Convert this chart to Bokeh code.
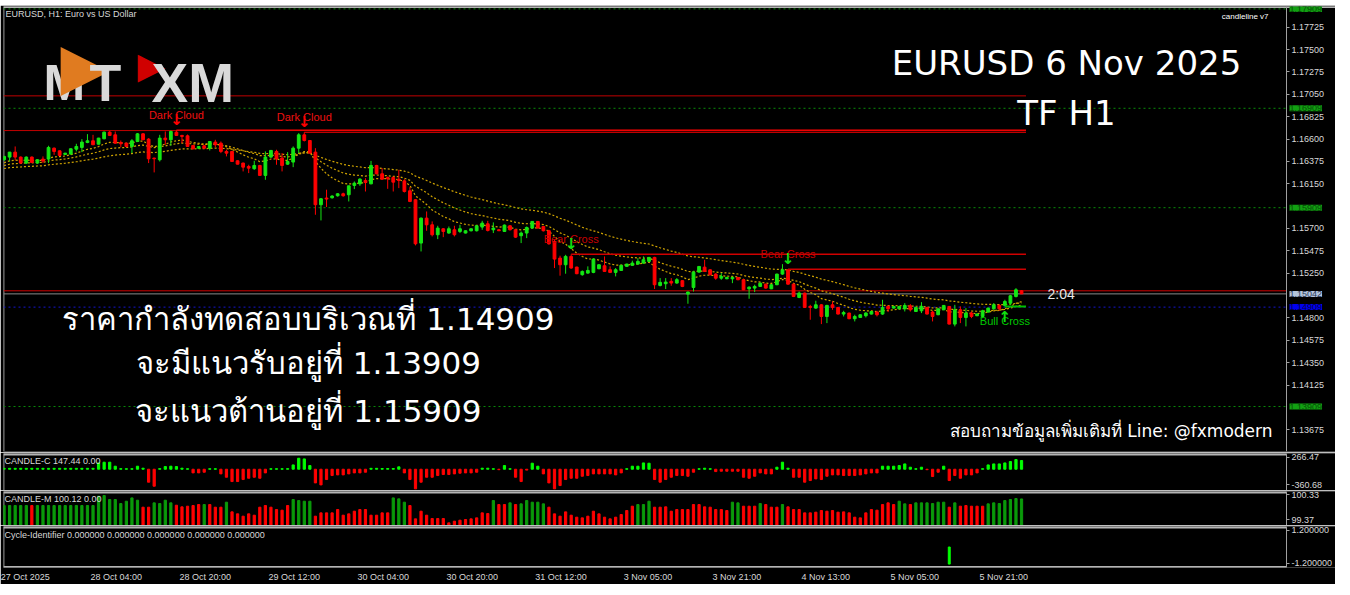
import numpy as np
from bokeh.plotting import figure
from bokeh.layouts import column
from bokeh.models import Range1d, FixedTicker, PrintfTickFormatter, Label, Spacer, ColumnDataSource
from bokeh.embed import file_html
from bokeh.resources import INLINE
from bokeh.core.properties import value

# ---------------- data (EURUSD H1) ----------------
opens = [
    1.16391, 1.16418, 1.16468, 1.16418, 1.16358, 1.16418, 1.16358, 1.16398, 1.16398, 1.16508,
    1.16481, 1.16445, 1.16448, 1.16498, 1.16515, 1.16565, 1.16582, 1.16548, 1.16602, 1.16669,
    1.16642, 1.16565, 1.16558, 1.16525, 1.16575, 1.16652, 1.16599, 1.16408, 1.16391, 1.16609,
    1.16592, 1.16669, 1.16636, 1.16632, 1.16535, 1.16508, 1.16532, 1.16508, 1.16569, 1.16558,
    1.16475, 1.16475, 1.16381, 1.16358, 1.16324, 1.16301, 1.16334, 1.16234, 1.16418, 1.16475,
    1.16408, 1.16347, 1.16368, 1.16508, 1.16642, 1.16585, 1.16468, 1.15939, 1.16006, 1.16009,
    1.16029, 1.16049, 1.16039, 1.16133, 1.16149, 1.16183, 1.16149, 1.16334, 1.16250, 1.16213,
    1.16213, 1.16196, 1.16179, 1.16079, 1.15989, 1.15553, 1.15804, 1.15737, 1.15637, 1.15697,
    1.15654, 1.15687, 1.15670, 1.15654, 1.15677, 1.15677, 1.15714, 1.15747, 1.15687, 1.15687,
    1.15670, 1.15727, 1.15687, 1.15627, 1.15654, 1.15704, 1.15771, 1.15720, 1.15677, 1.15570,
    1.15402, 1.15335, 1.15419, 1.15312, 1.15235, 1.15251, 1.15258, 1.15295, 1.15325, 1.15285,
    1.15258, 1.15278, 1.15319, 1.15329, 1.15342, 1.15352, 1.15369, 1.15409, 1.15127, 1.15144,
    1.15168, 1.15151, 1.15175, 1.15040, 1.15107, 1.15261, 1.15311, 1.15284, 1.15241, 1.15200,
    1.15194, 1.15194, 1.15207, 1.15184, 1.15093, 1.15100, 1.15117, 1.15140, 1.15093, 1.15134,
    1.15241, 1.15284, 1.15140, 1.15006, 1.15050, 1.14916, 1.14899, 1.14932, 1.14815, 1.14932,
    1.14906, 1.14839, 1.14849, 1.14792, 1.14805, 1.14822, 1.14839, 1.14859, 1.14839, 1.14916,
    1.14899, 1.14892, 1.14892, 1.14922, 1.14865, 1.14872, 1.14906, 1.14859, 1.14832, 1.14882,
    1.14916, 1.14738, 1.14882, 1.14805, 1.14849, 1.14822, 1.14815, 1.14859, 1.14892, 1.14926,
    1.14926, 1.14949, 1.15016, 1.15073,
]
highs = [
    1.16430, 1.16470, 1.16525, 1.16425, 1.16425, 1.16425, 1.16395, 1.16425, 1.16532, 1.16515,
    1.16485, 1.16460, 1.16505, 1.16552, 1.16599, 1.16649, 1.16642, 1.16612, 1.16675, 1.16680,
    1.16676, 1.16585, 1.16565, 1.16599, 1.16660, 1.16660, 1.16609, 1.16412, 1.16642, 1.16676,
    1.16685, 1.16690, 1.16642, 1.16645, 1.16540, 1.16530, 1.16540, 1.16580, 1.16592, 1.16575,
    1.16492, 1.16480, 1.16385, 1.16362, 1.16341, 1.16381, 1.16340, 1.16475, 1.16490, 1.16492,
    1.16458, 1.16468, 1.16525, 1.16659, 1.16668, 1.16590, 1.16508, 1.16006, 1.16090, 1.16035,
    1.16055, 1.16060, 1.16129, 1.16173, 1.16206, 1.16206, 1.16380, 1.16340, 1.16307, 1.16223,
    1.16223, 1.16290, 1.16196, 1.16116, 1.15995, 1.15810, 1.15871, 1.15771, 1.15727, 1.15704,
    1.15720, 1.15727, 1.15737, 1.15680, 1.15700, 1.15730, 1.15777, 1.15777, 1.15761, 1.15695,
    1.15740, 1.15735, 1.15690, 1.15670, 1.15720, 1.15775, 1.15775, 1.15725, 1.15687, 1.15587,
    1.15426, 1.15435, 1.15440, 1.15315, 1.15278, 1.15319, 1.15400, 1.15340, 1.15419, 1.15319,
    1.15302, 1.15335, 1.15345, 1.15376, 1.15402, 1.15419, 1.15412, 1.15415, 1.15201, 1.15201,
    1.15201, 1.15201, 1.15180, 1.15066, 1.15274, 1.15320, 1.15385, 1.15290, 1.15251, 1.15251,
    1.15215, 1.15217, 1.15212, 1.15190, 1.15117, 1.15134, 1.15155, 1.15145, 1.15140, 1.15245,
    1.15341, 1.15290, 1.15145, 1.15066, 1.15055, 1.14932, 1.14973, 1.14939, 1.14932, 1.14966,
    1.14910, 1.14872, 1.14853, 1.14832, 1.14836, 1.14859, 1.14868, 1.14872, 1.14983, 1.14926,
    1.14920, 1.14920, 1.14949, 1.14939, 1.14910, 1.14959, 1.14910, 1.14872, 1.14895, 1.14930,
    1.14920, 1.14932, 1.14916, 1.14899, 1.14865, 1.14845, 1.14882, 1.14905, 1.14949, 1.14939,
    1.14983, 1.15033, 1.15100, 1.15080,
]
lows = [
    1.16380, 1.16374, 1.16384, 1.16350, 1.16350, 1.16360, 1.16350, 1.16358, 1.16358, 1.16441,
    1.16430, 1.16440, 1.16445, 1.16475, 1.16468, 1.16558, 1.16540, 1.16545, 1.16598, 1.16630,
    1.16552, 1.16518, 1.16520, 1.16458, 1.16570, 1.16590, 1.16358, 1.16264, 1.16374, 1.16542,
    1.16532, 1.16630, 1.16558, 1.16520, 1.16495, 1.16500, 1.16500, 1.16485, 1.16518, 1.16458,
    1.16425, 1.16370, 1.16345, 1.16274, 1.16257, 1.16290, 1.16230, 1.16190, 1.16410, 1.16341,
    1.16274, 1.16341, 1.16317, 1.16458, 1.16575, 1.16455, 1.15838, 1.15781, 1.15916, 1.16000,
    1.16020, 1.16020, 1.15972, 1.16096, 1.16129, 1.16072, 1.16145, 1.16245, 1.16190, 1.16099,
    1.16072, 1.16106, 1.16062, 1.15965, 1.15530, 1.15469, 1.15677, 1.15620, 1.15593, 1.15613,
    1.15647, 1.15620, 1.15654, 1.15650, 1.15670, 1.15670, 1.15687, 1.15670, 1.15654, 1.15675,
    1.15665, 1.15680, 1.15605, 1.15553, 1.15603, 1.15700, 1.15700, 1.15670, 1.15536, 1.15302,
    1.15225, 1.15245, 1.15295, 1.15240, 1.15225, 1.15245, 1.15250, 1.15290, 1.15265, 1.15251,
    1.15218, 1.15275, 1.15315, 1.15325, 1.15335, 1.15345, 1.15365, 1.15091, 1.15117, 1.15091,
    1.15124, 1.15144, 1.15110, 1.14943, 1.15066, 1.15255, 1.15265, 1.15230, 1.15184, 1.15184,
    1.15190, 1.15150, 1.15180, 1.15080, 1.14993, 1.15060, 1.15112, 1.15095, 1.15090, 1.15130,
    1.15234, 1.15135, 1.15010, 1.14999, 1.14900, 1.14782, 1.14892, 1.14738, 1.14748, 1.14882,
    1.14835, 1.14815, 1.14788, 1.14765, 1.14800, 1.14805, 1.14835, 1.14815, 1.14832, 1.14859,
    1.14895, 1.14888, 1.14865, 1.14865, 1.14860, 1.14849, 1.14835, 1.14765, 1.14828, 1.14878,
    1.14735, 1.14715, 1.14748, 1.14715, 1.14798, 1.14818, 1.14798, 1.14855, 1.14882, 1.14872,
    1.14916, 1.14932, 1.15006, 1.15040,
]
closes = [
    1.16425, 1.16468, 1.16418, 1.16358, 1.16418, 1.16364, 1.16391, 1.16378, 1.16515, 1.16475,
    1.16435, 1.16458, 1.16502, 1.16525, 1.16569, 1.16582, 1.16542, 1.16609, 1.16669, 1.16636,
    1.16558, 1.16552, 1.16525, 1.16582, 1.16652, 1.16592, 1.16401, 1.16401, 1.16609, 1.16592,
    1.16676, 1.16636, 1.16626, 1.16525, 1.16502, 1.16525, 1.16508, 1.16575, 1.16542, 1.16475,
    1.16458, 1.16374, 1.16347, 1.16317, 1.16307, 1.16334, 1.16234, 1.16418, 1.16485, 1.16401,
    1.16334, 1.16374, 1.16508, 1.16642, 1.16585, 1.16458, 1.15939, 1.15999, 1.15996, 1.16026,
    1.16049, 1.16029, 1.16129, 1.16156, 1.16196, 1.16163, 1.16334, 1.16250, 1.16196, 1.16200,
    1.16166, 1.16183, 1.16072, 1.15972, 1.15546, 1.15804, 1.15737, 1.15637, 1.15704, 1.15670,
    1.15697, 1.15637, 1.15697, 1.15677, 1.15697, 1.15727, 1.15754, 1.15680, 1.15704, 1.15677,
    1.15734, 1.15687, 1.15613, 1.15654, 1.15710, 1.15771, 1.15704, 1.15677, 1.15546, 1.15392,
    1.15335, 1.15419, 1.15302, 1.15245, 1.15268, 1.15278, 1.15392, 1.15335, 1.15268, 1.15258,
    1.15285, 1.15329, 1.15342, 1.15352, 1.15369, 1.15386, 1.15409, 1.15134, 1.15158, 1.15161,
    1.15151, 1.15185, 1.15117, 1.15060, 1.15261, 1.15318, 1.15268, 1.15234, 1.15200, 1.15217,
    1.15207, 1.15207, 1.15184, 1.15083, 1.15110, 1.15117, 1.15150, 1.15100, 1.15134, 1.15241,
    1.15284, 1.15140, 1.15016, 1.15050, 1.14906, 1.14906, 1.14932, 1.14815, 1.14926, 1.14906,
    1.14839, 1.14855, 1.14792, 1.14815, 1.14832, 1.14849, 1.14865, 1.14832, 1.14906, 1.14892,
    1.14916, 1.14916, 1.14926, 1.14882, 1.14906, 1.14916, 1.14839, 1.14815, 1.14892, 1.14926,
    1.14738, 1.14882, 1.14805, 1.14849, 1.14815, 1.14839, 1.14872, 1.14899, 1.14932, 1.14892,
    1.14966, 1.15023, 1.15083, 1.15042,
]

price_ticks = [1.17725, 1.17500, 1.17275, 1.17050, 1.16825, 1.16600, 1.16375, 1.16150,
               1.15700, 1.15475, 1.15250, 1.14800, 1.14575, 1.14350, 1.14125, 1.13675]
time_tick_bars = [0, 16, 32, 48, 64, 80, 96, 112, 128, 144, 160, 176]
time_tick_labels = ["27 Oct 2025", "28 Oct 04:00", "28 Oct 20:00", "29 Oct 12:00",
                    "30 Oct 04:00", "30 Oct 20:00", "31 Oct 12:00", "3 Nov 05:00",
                    "3 Nov 21:00", "4 Nov 13:00", "5 Nov 05:00", "5 Nov 21:00"]

ma_periods = [10, 20, 40]
ma_seeds = [1.16347, 1.16324, 1.16297]

green_levels = [1.17909, 1.16909, 1.15909, 1.13909]
test_level = 1.14909
support_level = 1.13909
resist_level = 1.15909
red_levels = [1.17034, 1.16685]
red_price_line = 1.15073

signal_bars = [31, 54, 102, 141, 180]
signal_names = ["Dark Cloud", "Dark Cloud", "Bear Cross", "Bear Cross", "Bull Cross"]

candle_c = [
    15, 15, 15, 15, 15, 15, 15, 15, 15, 15,
    15, 15, 15, 15, 15, 15, 15, 107, 119, 119,
    51, 10, 8, 8, 51, 17, -220, -288, 10, 45,
    51, 45, 17, 8, -62, -62, -51, 8, 8, -79,
    -136, -209, -209, -175, -153, -136, -153, -62, 8, 8,
    8, 10, 73, 186, 175, 62, -232, -266, -175, -107,
    -96, -96, -79, -62, -62, -51, 15, 15, 12, 12,
    12, 40, -62, -175, -333, -220, -136, -136, -107, -90,
    -90, -79, -68, -62, -62, -51, 17, 17, 8, -8,
    62, 8, -136, -209, -15, 102, 51, -79, -232, -333,
    -277, -175, -153, -153, -119, -107, -79, -79, -79, -79,
    -96, -62, 8, 51, 51, 107, 102, -175, -220, -175,
    -136, -107, -107, -119, -51, 8, 17, 8, -40, -34,
    -34, -34, -34, -136, -153, -119, -62, -79, -79, 34,
    119, 17, -136, -136, -220, -192, -164, -175, -119, -96,
    -96, -107, -107, -107, -96, -79, -62, -62, 51, 51,
    51, 62, 90, 34, 8, 34, -8, -124, -51, 51,
    -192, -107, -153, -96, -96, -62, 8, 73, 90, 90,
    107, 130, 164, 147.44,
]
candle_c_range = [-360.68, 266.47]

candle_m = [
    99.934, 99.934, 99.934, 99.934, 99.934, 99.934, 99.934, 99.934, 99.934, 99.934,
    99.934, 99.934, 99.934, 99.934, 99.934, 99.934, 99.934,
    100.197, 100.216, 100.103, 100.103, 99.990, 100.056, 100.150, 100.084,
    99.887, 99.887, 100.009, 99.990, 100.084, 100.009,
    99.943, 99.896, 99.915, 99.934, 99.962, 99.962, 99.962, 99.887, 99.887, 100.028,
    99.755, 99.699, 99.633, 99.699, 99.661, 99.887, 99.934, 99.887, 99.821, 99.802, 99.934,
    100.103, 100.075, 100.056, 100.056,
    99.633, 99.727, 99.727, 99.727, 99.821, 99.661, 99.699, 99.774, 99.821, 99.821, 99.661, 99.661, 99.727, 99.727,
    100.150, 100.122, 100.028,
    99.934, 99.558, 99.774, 99.661, 99.567, 99.567, 99.567, 99.445, 99.492, 99.520, 99.539, 99.558, 99.586, 99.727, 99.708,
    100.075, 99.962, 99.962, 100.009, 99.962, 99.981, 100.075, 100.028, 100.028, 99.981,
    99.887, 99.699, 99.633, 99.755, 99.661, 99.605, 99.586, 99.633, 99.774, 99.699, 99.605, 99.558, 99.605, 99.680, 99.793, 99.915,
    99.962, 99.962, 100.056,
    99.887, 99.887, 99.896, 99.774, 99.821, 99.821, 99.821, 99.962, 99.962, 99.896, 99.887, 99.821, 99.821, 99.793,
    100.028, 100.009,
    99.915, 99.915, 99.915, 99.990, 99.962, 99.887, 99.887,
    99.962, 99.896, 99.821, 99.821, 99.727, 99.727, 99.746, 99.793, 99.774, 99.793,
    99.746, 99.755, 99.727, 99.605, 99.586, 99.727, 99.821, 99.802, 99.962, 100.009, 99.962,
    100.056, 99.981, 99.962, 100.009, 100.009, 100.009, 99.990, 100.028, 100.028,
    99.887, 100.009, 99.915, 99.934, 99.915, 99.915, 99.915,
    99.981, 100.009, 99.990, 100.075, 100.103, 100.131, 100.12,
]
candle_m_dir = ("gggggrggggggggggg" "gggggggg" "rr" "gggg" "rrrrr" "g" "rrr" "g"
                "rrrrrrrrrrr" "gggg" "rrrrrrrrrrrrrr" "ggg" "rrrrrrrrrrrrrrr" "g" "rr" "g" "r"
                "ggggg" "rrrrrrrrrrrrrrrr" "ggg" "rrrrrrrrrrrrrr" "gg" "rrr" "g" "rrr" "g"
                "rrrrrrrrrrrrrrrrrrrr" "gg" "r" "gggggg" "r" "g" "rrrrr" "ggggggg")
candle_m_range = [99.37, 100.33]

cycle_bars = [170]
cycle_vals = [-1.0]
cycle_range = [-1.2, 1.2]

title_lines = ["EURUSD 6 Nov 2025", "TF H1"]
thai_lines = ["ราคากำลังทดสอบบริเวณที่ " + f"{test_level:.5f}",
              "จะมีแนวรับอยู่ที่ " + f"{support_level:.5f}",
              "จะแนวต้านอยู่ที่ " + f"{resist_level:.5f}"]
contact_text = "สอบถามข้อมูลเพิ่มเติมที่ Line: @fxmodern"

# ---------------- layout constants ----------------
PLOT_W = 1283          # price area width (px) up to the scale line
FRAME_W = 1332         # frame incl. the price-scale strip
BAR_PX = 5.56
X0 = -0.1
X1 = X0 + FRAME_W / BAR_PX
AXIS_X = X0 + PLOT_W / BAR_PX
xr = Range1d(X0, X1)
AX = "#a0a0a0"
SEP = "#b4b4b4"
TXT = "#d8d8d8"
FONT = "Liberation Sans"
BIG = "DejaVu Sans"

n = len(closes)
idx = list(range(n))


def base_fig(frame_h, yr, top, bottom, xaxis=False):
    f = figure(frame_width=FRAME_W, frame_height=frame_h, x_range=xr, y_range=yr,
               output_backend="svg", toolbar_location=None,
               x_axis_location=("below" if xaxis else None), y_axis_location="right",
               background_fill_color="black", border_fill_color="black",
               min_border_left=3, min_border_right=0, min_border_top=top, min_border_bottom=bottom,
               outline_line_color=None)
    f.xgrid.visible = False
    f.ygrid.visible = False
    ya = f.yaxis[0]
    ya.fixed_location = AXIS_X
    ya.axis_line_color = AX
    ya.major_tick_line_color = AX
    ya.major_tick_out = 3
    ya.major_tick_in = 0
    ya.minor_tick_line_color = None
    ya.major_label_text_color = TXT
    ya.major_label_text_font = FONT
    ya.major_label_text_font_size = "9px"
    ya.major_label_standoff = 2
    # window border on the left
    f.segment(x0=X0, y0=yr.start, x1=X0, y1=yr.end, line_color="#7a7a7a", line_width=2)
    return f


def hline(fig, y, color, width=1, dash="solid", x_start=X0):
    fig.segment(x0=x_start, y0=y, x1=AXIS_X, y1=y, line_color=color, line_width=width,
                line_dash=dash)


# ---------------- main price panel ----------------
Y_TOP = 1.17933
Y_BOT = 1.134565
p = base_fig(445, Range1d(Y_BOT, Y_TOP), 1, 1)
p.yaxis[0].ticker = FixedTicker(ticks=price_ticks)
p.yaxis[0].formatter = PrintfTickFormatter(format="%.5f")
p.segment(x0=X0, y0=Y_TOP, x1=X1, y1=Y_TOP, line_color=SEP, line_width=3)

# horizontal levels
for lv in green_levels:
    hline(p, lv, "#0a8a0a", dash="2 3")
hline(p, test_level, "#1414d0", dash="2 3")
hline(p, red_price_line, "#d00000")
hline(p, closes[-1], "#8a8a8a")

x_end = n - 1 + 0.8
for lv in red_levels:
    p.segment(x0=X0, y0=lv, x1=x_end, y1=lv, line_color="#c00000", line_width=1)

# moving-average ribbon (EMAs of the closes)
for per, seed in zip(ma_periods, ma_seeds):
    k = 2.0 / (per + 1)
    prev = seed
    ema = []
    for v in closes:
        prev = prev + k * (v - prev)
        ema.append(prev)
    p.line(idx, ema, line_color="#d0a400", line_dash="2 2", line_width=1.2)

# candles
o = np.array(opens); c = np.array(closes)
cols = ["#14e614" if cc >= oo else "#ff0000" for oo, cc in zip(opens, closes)]
src = ColumnDataSource(dict(x=idx, h=highs, l=lows, top=list(np.maximum(o, c)),
                            bot=list(np.minimum(o, c)), col=cols))
p.segment(x0="x", y0="l", x1="x", y1="h", line_color="col", line_width=1, source=src)
p.vbar(x="x", width=0.5, top="top", bottom="bot", fill_color="col", line_color="col",
       line_width=1, source=src)

# pattern / cross signals
sig_text_col = {"Dark Cloud": "#ee1010", "Bear Cross": "#c80000", "Bull Cross": "#00c800"}
sig_arrow_col = {"Dark Cloud": "#ff0000", "Bear Cross": "#10e010", "Bull Cross": "#10e010"}
sig_line = {"Dark Cloud": ("#ff0000", 1.2), "Bear Cross": ("#d00000", 1.5), "Bull Cross": ("#00c000", 2)}
for b, name in zip(signal_bars, signal_names):
    bull = name.startswith("Bull")
    lvl = lows[b] if bull else highs[b]
    lc, lw = sig_line[name]
    p.segment(x0=b, y0=lvl, x1=x_end, y1=lvl, line_color=lc, line_width=lw)
    p.text(x=[b], y=[lvl], text=[name], text_align="center", text_baseline="middle",
           y_offset=(15 if bull else -15), text_color=sig_text_col[name],
           text_font=value(FONT), text_font_size=value("11px"))
    p.text(x=[b], y=[lvl], text=["↑" if bull else "↓"], text_align="center",
           text_baseline=("top" if bull else "bottom"), y_offset=(2 if bull else -1),
           text_color=sig_arrow_col[name], text_font=value("DejaVu Sans"),
           text_font_style="bold", text_font_size=value("15px"))


# price boxes on the scale
def price_box(fig, y, txt, bg, fg):
    fig.add_layout(Label(x=PLOT_W + 3, x_units="screen", y=y, y_units="data", text=txt,
                         text_font=FONT, text_font_size="9px", text_color=fg,
                         text_baseline="middle", text_align="left",
                         background_fill_color=bg, background_fill_alpha=1.0))


for lv in green_levels:
    price_box(p, lv, f"{lv:.5f}", "#12a012", "#064d06")
price_box(p, closes[-1], f"{closes[-1]:.5f}", "#b4c4dc", "#2a3a5a")
price_box(p, test_level, f"{test_level:.5f}", "#0000f0", "#000050")


def lab(fig, x, y, txt, size, color, font=FONT, align="left", base="middle", style="normal",
        yu="screen"):
    fig.add_layout(Label(x=x, y=y, x_units="screen", y_units=yu, text=txt, text_font=font,
                         text_font_size=size, text_color=color, text_align=align,
                         text_baseline=base, text_font_style=style))


lab(p, 2, 438, "EURUSD, H1:  Euro vs US Dollar", "9px", TXT)
lab(p, 1265, 435, "candleline v7", "8px", "#ffffff", align="right")
lab(p, 1044, closes[-1], "2:04", "14px", "#e8e8e8", yu="data")

# logo
lab(p, 40, 369, "M", "50px", "#d9d9d9", style="bold", base="alphabetic")
lab(p, 57, 386, "▶", "64px", "#e07b20", font="DejaVu Sans")
lab(p, 86, 369, "T", "52px", "#d9d9d9", style="bold", base="alphabetic")
lab(p, 134, 386, "▶", "36px", "#d00000", font="DejaVu Sans")
lab(p, 148, 369, "XM", "55px", "#d9d9d9", style="bold", base="alphabetic")

# overlay titles
lab(p, 1063, 389, title_lines[0], "34px", "#ffffff", font=BIG, align="center")
lab(p, 1063, 339, title_lines[1], "34px", "#ffffff", font=BIG, align="center")
for txt, sy in zip(thai_lines, [133, 89, 41]):
    lab(p, 305, sy, txt, "31px", "#ffffff", font=BIG, align="center")
lab(p, 1269, 21, contact_text, "17px", "#ffffff", font=BIG, align="right")

# ---------------- CANDLE-C panel ----------------
pc = base_fig(37, Range1d(*candle_c_range), 1, 0)
pc.yaxis[0].ticker = FixedTicker(ticks=[204, -264])
pc.yaxis[0].major_label_overrides = {204: f"{candle_c_range[1]:.2f}", -264: f"{candle_c_range[0]:.2f}"}
hline(pc, candle_c_range[1], SEP, width=4)
ccols = ["#00ff00" if v >= 0 else "#ff0000" for v in candle_c]
pc.vbar(x=idx, width=0.4, top=candle_c, bottom=0, fill_color=ccols, line_color=ccols, line_width=1)
lab(pc, 1, 30, f"CANDLE-C {candle_c[-1]:.2f} 0.00", "9px", TXT)

# ---------------- CANDLE-M panel ----------------
pm = base_fig(34, Range1d(*candle_m_range), 1, 0)
pm.yaxis[0].ticker = FixedTicker(ticks=[99.53, 100.245])
pm.yaxis[0].major_label_overrides = {99.53: f"{candle_m_range[0]:.2f}", 100.245: f"{candle_m_range[1]:.2f}"}
hline(pm, candle_m_range[1], SEP, width=4)
mcols = ["#0a9a0a" if d == "g" else "#ff0000" for d in candle_m_dir]
pm.vbar(x=idx, width=0.4, top=candle_m, bottom=99.0, fill_color=mcols, line_color=mcols, line_width=1)
lab(pm, 1, 27, f"CANDLE-M {candle_m[-1]:.2f} 0.00", "9px", TXT)

# ---------------- Cycle-Identifier panel ----------------
pcy = base_fig(41, Range1d(*cycle_range), 1, 16, xaxis=True)
pcy.yaxis[0].ticker = FixedTicker(ticks=[0.97, -0.95])
pcy.yaxis[0].major_label_overrides = {0.97: f"{cycle_range[1]:.6f}", -0.95: f"{cycle_range[0]:.6f}"}
hline(pcy, cycle_range[1], SEP, width=4)
hline(pcy, cycle_range[0], SEP, width=3)
pcy.vbar(x=cycle_bars, width=0.35, top=0, bottom=cycle_vals, fill_color="#00ff00", line_color="#00ff00")
lab(pcy, 1, 33, "Cycle-Identifier 0.000000 0.000000 0.000000 0.000000 0.000000", "9px", TXT)

# time axis: labels start at their bar (MT4 style)
xa = pcy.xaxis[0]
pos = [round(b + (len(t) * 4.3 / 2 - 2.5) / BAR_PX, 3) for b, t in zip(time_tick_bars, time_tick_labels)]
xa.ticker = FixedTicker(ticks=pos)
xa.major_label_overrides = {pp: t for pp, t in zip(pos, time_tick_labels)}
xa.axis_line_color = None
xa.major_tick_out = 0
xa.major_tick_in = 0
xa.minor_tick_line_color = None
xa.major_label_text_color = TXT
xa.major_label_text_font = FONT
xa.major_label_text_font_size = "9px"
xa.major_label_standoff = 4

layout = column(Spacer(width=1335, height=5), p, pc, pm, pcy, spacing=0)

html = file_html(layout, INLINE, title="EURUSD H1")
html = html.replace("<head>", "<head><style>html,body{margin:0;padding:0;background:#ffffff;overflow:hidden;}</style>", 1)
open("out.html", "w").write(html)
